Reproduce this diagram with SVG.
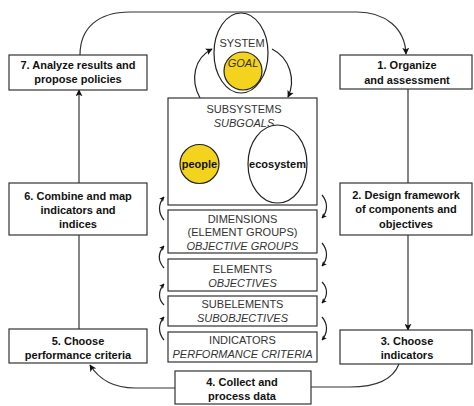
<svg xmlns="http://www.w3.org/2000/svg" width="474" height="406" viewBox="0 0 474 406">
<defs>
<marker id="ah" viewBox="0 0 10 10" refX="9" refY="5" markerWidth="7" markerHeight="7" orient="auto" markerUnits="userSpaceOnUse">
<path d="M0,0 L10,5 L0,10 L2.5,5 Z" fill="#111"/>
</marker>
<marker id="ahs" viewBox="0 0 10 10" refX="9" refY="5" markerWidth="5" markerHeight="5" orient="auto" markerUnits="userSpaceOnUse">
<path d="M0,0 L10,5 L0,10 L2.5,5 Z" fill="#111"/>
</marker>
<style>
.box{fill:#fff;stroke:#333;stroke-width:1.2}
.step{font-family:"Liberation Sans",Arial,sans-serif;font-size:11px;font-weight:bold;fill:#111;text-anchor:middle}
.lvl{font-family:"Liberation Sans",Arial,sans-serif;font-size:11px;fill:#333;text-anchor:middle}
.it{font-style:italic}
.b{font-weight:bold;fill:#111}
.conn{fill:none;stroke:#333;stroke-width:1.2}
.sm{fill:none;stroke:#222;stroke-width:1.2}
.gold{fill:#f4d31f;stroke:#222;stroke-width:1.2}
</style>
</defs>
<g id="connectors">
<path class="conn" d="M80,55 C80,28 98,12 130,12 L357,12 C385,12 405,28 406,54" marker-end="url(#ah)"/>
<path class="conn" d="M408,89 L408,330" marker-end="url(#ah)"/>
<path class="conn" d="M399,364 C392,382 372,387 350,387 L311,387"/>
<path class="conn" d="M175,388 L135,388 C116,388 100,381 90,365" marker-end="url(#ah)"/>
<path class="conn" d="M79,329 L79,90" marker-end="url(#ah)"/>
<path class="sm" d="M200,98 C190,80 194,58 212,49" marker-end="url(#ah)"/>
<path class="sm" d="M272,49 C290,58 296,80 288,97" marker-end="url(#ah)"/>
<path class="sm" d="M164,220 C158,213 158,204 164,197" marker-end="url(#ahs)"/>
<path class="sm" d="M164,268 C158,261 158,253 164,246" marker-end="url(#ahs)"/>
<path class="sm" d="M164,305 C158,299 158,291 164,284" marker-end="url(#ahs)"/>
<path class="sm" d="M164,340 C158,333 158,324 164,317" marker-end="url(#ahs)"/>
<path class="sm" d="M322,195 C328,202 328,211 322,218" marker-end="url(#ahs)"/>
<path class="sm" d="M322,243 C328,250 328,259 322,266" marker-end="url(#ahs)"/>
<path class="sm" d="M322,282 C328,288 328,296 322,303" marker-end="url(#ahs)"/>
<path class="sm" d="M322,317 C328,324 328,333 322,340" marker-end="url(#ahs)"/>
</g>
<g id="step7">
<rect class="box" x="9" y="55" width="138" height="35"/>
<text class="step" x="78" y="69">7. Analyze results and</text>
<text class="step" x="78" y="83">propose policies</text>
</g>
<g id="step1">
<rect class="box" x="340" y="55" width="132" height="34"/>
<text class="step" x="407" y="69">1. Organize</text>
<text class="step" x="407" y="84">and assessment</text>
</g>
<g id="step6">
<rect class="box" x="9" y="183" width="138" height="52"/>
<text class="step" x="78" y="200">6. Combine and map</text>
<text class="step" x="78" y="214">indicators and</text>
<text class="step" x="78" y="228">indices</text>
</g>
<g id="step2">
<rect class="box" x="340" y="183" width="132" height="52"/>
<text class="step" x="406" y="199">2. Design framework</text>
<text class="step" x="406" y="213">of components and</text>
<text class="step" x="406" y="228">objectives</text>
</g>
<g id="step5">
<rect class="box" x="9" y="329" width="138" height="34"/>
<text class="step" x="78" y="345">5. Choose</text>
<text class="step" x="78" y="359">performance criteria</text>
</g>
<g id="step3">
<rect class="box" x="340" y="330" width="132" height="34"/>
<text class="step" x="407" y="345">3. Choose</text>
<text class="step" x="407" y="359">indicators</text>
</g>
<g id="step4">
<rect class="box" x="175" y="371" width="136" height="33"/>
<text class="step" x="242" y="386">4. Collect and</text>
<text class="step" x="242" y="400">process data</text>
</g>
<g id="system">
<ellipse cx="241" cy="53" rx="27" ry="40" fill="#fff" stroke="#222" stroke-width="1.2"/>
<circle class="gold" cx="243" cy="71" r="19"/>
<text class="lvl" x="242" y="47">SYSTEM</text>
<text class="lvl it" x="243" y="67">GOAL</text>
</g>
<g id="subsystems">
<rect class="box" x="168" y="98" width="149" height="107"/>
<text class="lvl" x="244" y="113">SUBSYSTEMS</text>
<text class="lvl it" x="244" y="127">SUBGOALS</text>
</g>
<g id="people">
<circle class="gold" cx="199.5" cy="164" r="19.5"/>
<text class="lvl b" x="199.5" y="168">people</text>
</g>
<g id="ecosystem">
<ellipse cx="277.5" cy="164" rx="29.5" ry="39" fill="#fff" stroke="#222" stroke-width="1.2"/>
<text class="lvl b" x="277.5" y="168">ecosystem</text>
</g>
<g id="dimensions">
<rect class="box" x="168" y="210" width="149" height="43"/>
<text class="lvl" x="242.5" y="223">DIMENSIONS</text>
<text class="lvl" x="242.5" y="236">(ELEMENT GROUPS)</text>
<text class="lvl it" x="242.5" y="250">OBJECTIVE GROUPS</text>
</g>
<g id="elements">
<rect class="box" x="168" y="259" width="149" height="32"/>
<text class="lvl" x="242.5" y="273">ELEMENTS</text>
<text class="lvl it" x="242.5" y="287">OBJECTIVES</text>
</g>
<g id="subelements">
<rect class="box" x="168" y="296" width="149" height="30"/>
<text class="lvl" x="242.5" y="308">SUBELEMENTS</text>
<text class="lvl it" x="242.5" y="322">SUBOBJECTIVES</text>
</g>
<g id="indicators">
<rect class="box" x="168" y="332" width="149" height="30"/>
<text class="lvl" x="242.5" y="344">INDICATORS</text>
<text class="lvl it" x="242.5" y="358">PERFORMANCE CRITERIA</text>
</g>
</svg>
